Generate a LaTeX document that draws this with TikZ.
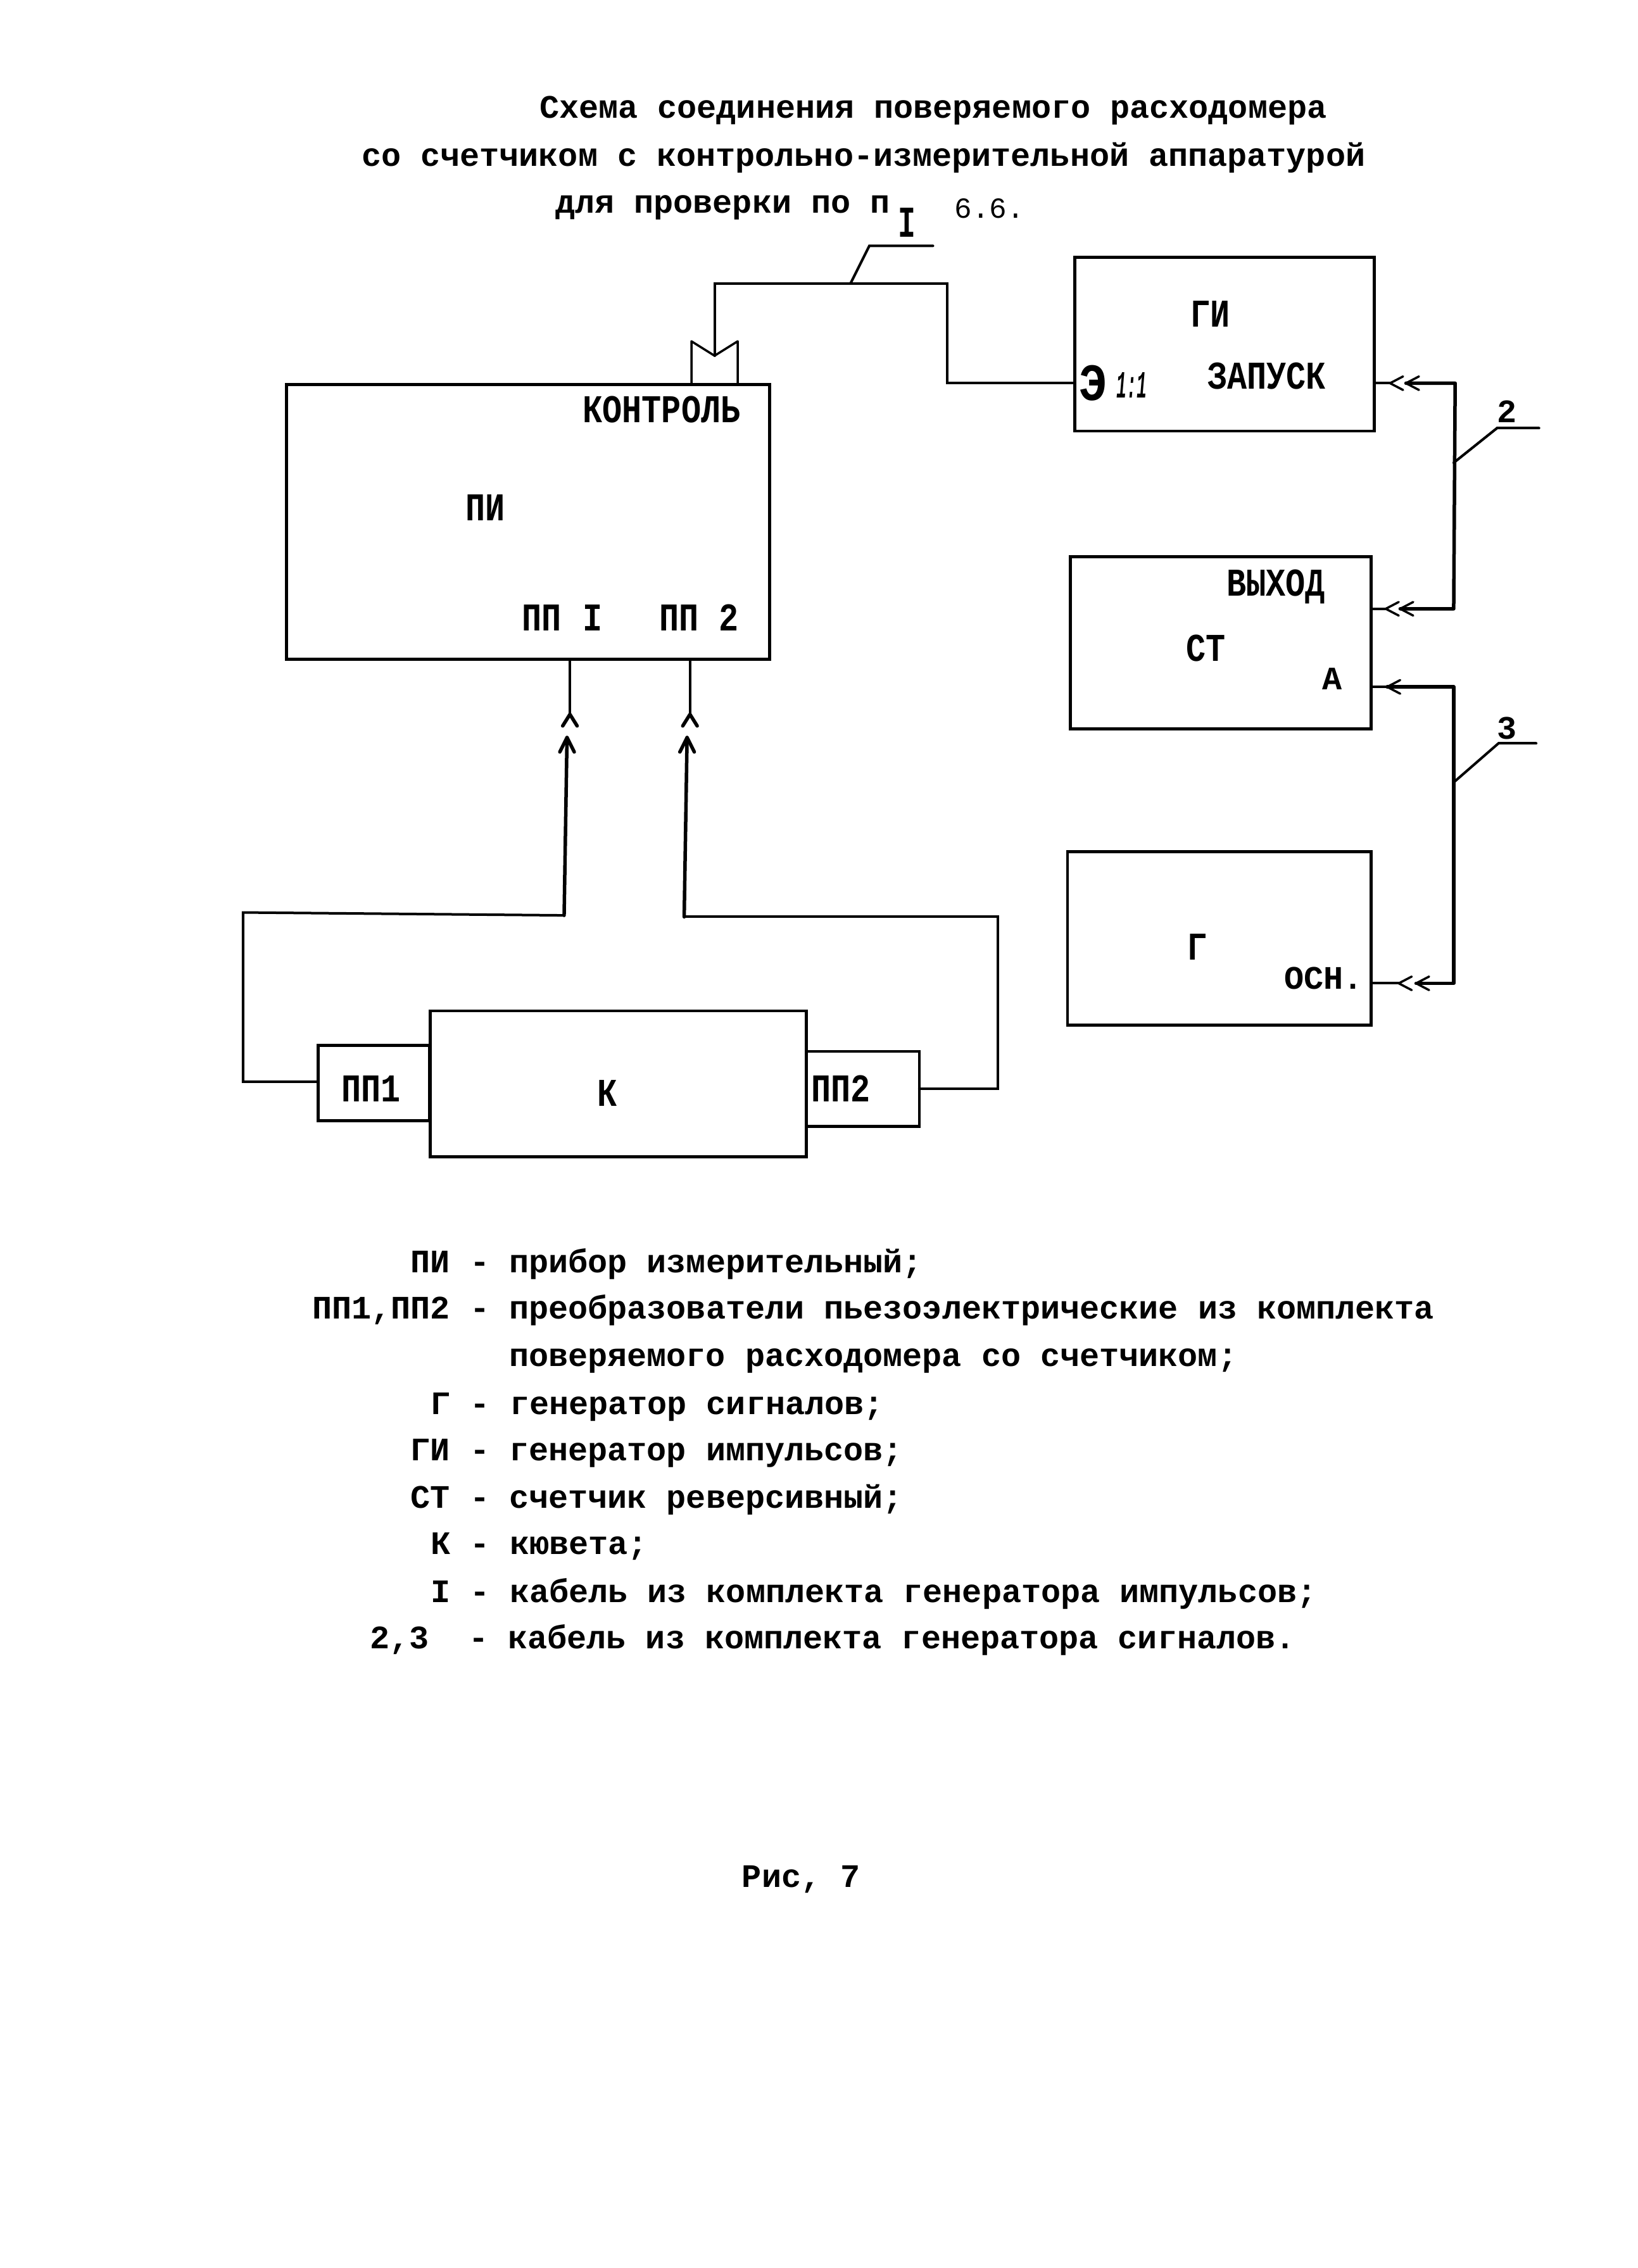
\documentclass[tikz,border=0pt]{standalone}
\usepackage{graphicx}
\usepackage{fontspec}
\setmainfont{Liberation Mono}[BoldFont={Liberation Mono Bold}]
\usetikzlibrary{calc}
\def\u{2.2845pt}
\newcommand{\capl}[1]{\scalebox{1}[1.2]{#1}}
\tikzset{
  bx/.style={draw=black,line width=4.5pt,fill=none,inner sep=0pt,outer sep=0pt,rectangle},
  wire/.style={draw=black,line width=4pt,line cap=round,line join=miter},
  thick wire/.style={draw=black,line width=5.5pt,line cap=round,line join=round},
  thin wire/.style={draw=black,line width=3.5pt,line cap=round,line join=round},
  txt/.style={anchor=base west,inner sep=0pt,outer sep=0pt,font=\fontsize{51.8pt}{60pt}\selectfont\bfseries,text=black},
}
\newcommand{\chev}[2]{\draw[thin wire] (#1+9,#2-4.7) -- (#1,#2) -- (#1+9,#2+4.7);}
\begin{document}
\frenchspacing
\begin{tikzpicture}[x=\u,y=-\u]
\useasboundingbox[fill=white] (0,0) rectangle (1132,1568.4);
% title
\node[txt] (t1) at (373,81.5) {Схема соединения поверяемого расходомера};
\node[txt] (t2) at (250,115) {со счетчиком с контрольно-измерительной аппаратурой};
\node[txt] (t3) at (384,147.5) {для проверки по п};
\node[txt,anchor=base,font=\fontsize{58pt}{60pt}\selectfont\bfseries] (one) at (627,164) {\scalebox{0.8}[1.2]{I}};
\node[txt,font=\fontsize{46pt}{60pt}\selectfont] (t4) at (660,151) {6.6.};
% boxes
\node[bx,minimum width=207*\u,minimum height=120*\u] (gi) at (846.5,238) {};
\node[bx,minimum width=208*\u,minimum height=119*\u] (st) at (844,444.5) {};
\node[bx,minimum width=210*\u,minimum height=120*\u] (g) at (843,649) {};
\node[bx,minimum width=334*\u,minimum height=190*\u] (pi) at (365,361) {};
\node[bx,minimum width=260*\u,minimum height=101*\u] (k) at (427.5,749.5) {};
\node[bx,minimum width=77*\u,minimum height=52*\u] (pp1) at (258.5,749) {};
\node[bx,minimum width=78*\u,minimum height=52*\u] (pp2) at (596.5,753) {};
% box labels
\node[txt] (lgi) at (823,226) {\capl{ГИ}};
\node[txt] (lzap) at (835,269) {\capl{ЗАПУСК}};
\node[txt] (le) at (746,277) {\scalebox{1.4}[1.6]{Э}};
\node[txt,font=\fontsize{38pt}{40pt}\selectfont\bfseries\itshape] (l11) at (772,275) {\scalebox{0.7}[1.6]{1:1}};
\node[txt] (lvy) at (848,412) {\capl{ВЫХОД}};
\node[txt] (lst) at (820,457) {\capl{СТ}};
\node[txt] (la) at (914,477) {А};
\node[txt] (lg) at (821,664) {\capl{Г}};
\node[txt] (losn) at (888,684) {ОСН.};
\node[txt] (lpi) at (322,360) {\capl{ПИ}};
\node[txt] (lkon) at (403,292) {\capl{КОНТРОЛЬ}};
\node[txt] (lpa) at (361,436) {\capl{ПП}};
\node[txt] (lpb) at (403,436) {\capl{I}};
\node[txt] (lpc) at (456,436) {\capl{ПП}};
\node[txt] (lpd) at (497,436) {\capl{2}};
\node[txt] (lp1) at (236,762) {\capl{ПП1}};
\node[txt] (lp2) at (561,762) {\capl{ПП2}};
\node[txt] (lk) at (413,765) {\capl{К}};
\node[txt] (n2) at (1035,292) {2};
\node[txt] (n3) at (1035,511) {3};
% control connector
\coordinate (ctop) at (494,246);
\coordinate (leada) at (601,170);
\coordinate (leadb) at (645,170);
\coordinate (leadc) at (1035,296);
\coordinate (leadd) at (1064,296);
\coordinate (leade) at (1036,514);
\coordinate (leadf) at (1062,514);
\draw[thin wire] (pi.north -| 478,0) -- (478,236) -- (ctop) -- (510,236) -- (pi.north -| 510,0);
\draw[wire] (ctop) -- (494,196) -- (655,196) -- (655,265) -- (gi.west |- 0,265);
\draw[wire] (588,196) -- (leada) -- (leadb);
% PI inputs
\draw[wire] (pi.south -| 394,0) -- (394,494);
\draw[thick wire] (389,502) -- (394,494) -- (399,502);
\draw[wire] (pi.south -| 477,0) -- (477,494);
\draw[thick wire] (472,502) -- (477,494) -- (482,502);
\draw[thick wire] (387,520) -- (392,510) -- (397,520);
\draw[thick wire] (470,520) -- (475,510) -- (480,520);
\draw[thick wire] (392,510) -- (390,633);
\draw[thick wire] (475,510) -- (473,634);
\draw[wire] (390,633) -- (168,631) -- (168,748) -- (pp1.west |- 0,748);
\draw[wire] (473,634) -- (690,634) -- (690,753) -- (pp2.east |- 0,753);
% right-hand cables
\draw[wire] (gi.east |- 0,265) -- (961,265);
\chev{961}{265}
\chev{972}{265}
\draw[thick wire] (972,265) -- (1006,265) -- (1005,421) -- (968,421);
\draw[wire] (st.east |- 0,421) -- (958,421);
\chev{958}{421}
\chev{968}{421}
\draw[wire] (1005,320) -- (leadc) -- (leadd);
\draw[wire] (st.east |- 0,475) -- (959,475);
\chev{959}{475}
\draw[thick wire] (959,475) -- (1005,475) -- (1005,680) -- (979,680);
\draw[wire] (g.east |- 0,680) -- (967,680);
\chev{967}{680}
\chev{979}{680}
\draw[wire] (1005,541) -- (leade) -- (leadf);
% legend
\node[txt] (k1) at (284,880) {ПИ - прибор измерительный;};
\node[txt] (k2) at (216,912) {ПП1,ПП2 - преобразователи пьезоэлектрические из комплекта};
\node[txt] (k3) at (352,945) {поверяемого расходомера со счетчиком;};
\node[txt] (k4) at (298,978) {Г - генератор сигналов;};
\node[txt] (k5) at (284,1010) {ГИ - генератор импульсов;};
\node[txt] (k6) at (284,1043) {СТ - счетчик реверсивный;};
\node[txt] (k7) at (298,1075) {К - кювета;};
\node[txt] (k8) at (298,1108) {I - кабель из комплекта генератора импульсов;};
\node[txt] (k9) at (256,1140) {2,3~~- кабель из комплекта генератора сигналов.};
\node[txt] (fig) at (513,1305) {Рис, 7};
\end{tikzpicture}
\end{document}
